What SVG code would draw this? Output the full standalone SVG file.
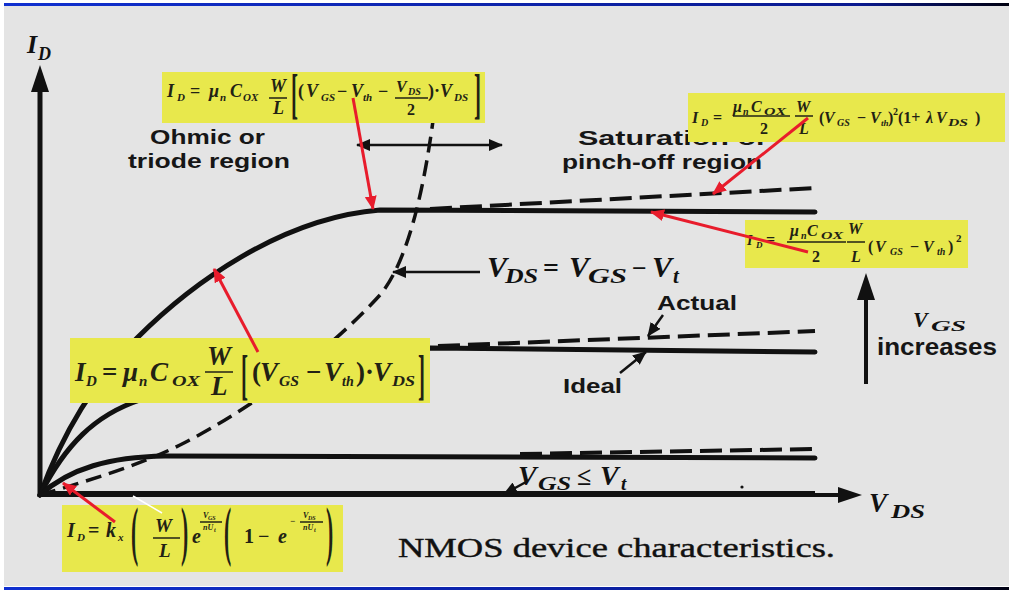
<svg xmlns="http://www.w3.org/2000/svg" width="1009" height="590" viewBox="0 0 1009 590">
<defs>
<linearGradient id="bar" x1="0" x2="1" y1="0" y2="0"><stop offset="0" stop-color="#1030d0"/><stop offset="0.85" stop-color="#0a1a90"/><stop offset="1" stop-color="#000010"/></linearGradient>
<marker id="ah" markerUnits="userSpaceOnUse" markerWidth="14" markerHeight="12" refX="13" refY="6" orient="auto-start-reverse"><path d="M0,0 L14,6 L0,12 z" fill="#111"/></marker>
<marker id="rh" markerUnits="userSpaceOnUse" markerWidth="14" markerHeight="12" refX="13" refY="6" orient="auto"><path d="M0,0 L14,6 L0,12 z" fill="#e81c2c"/></marker>
</defs>
<style>
.f{font-family:"Liberation Serif",serif;font-weight:bold;font-style:italic;fill:#222214}
.u{font-style:normal}
.lab{font-family:"Liberation Sans",Arial,sans-serif;font-weight:bold;fill:#161616}
.v{font-family:"Liberation Serif",serif;font-weight:bold;font-style:italic;fill:#111}
.box{fill:#e8e84c}
.crv{fill:none;stroke:#111;stroke-width:5;stroke-linecap:round;stroke-linejoin:round}
.dsh{fill:none;stroke:#111;stroke-width:4;stroke-dasharray:22 8}
.par{fill:none;stroke:#111;stroke-width:3.5;stroke-dasharray:16 8}
.ar{fill:none;stroke:#111;stroke-width:2.5}
.red{fill:none;stroke:#e81c2c;stroke-width:3}
.fl{stroke:#222214;stroke-width:1.5}
</style>
<rect x="0" y="0" width="1009" height="590" fill="#ffffff"/>
<rect x="4" y="6" width="1005" height="580" fill="#e4e4e4"/>
<rect x="4" y="3" width="1005" height="3" fill="url(#bar)"/>
<rect x="4" y="587" width="1005" height="3" fill="url(#bar)"/>

<g id="axes">
<line x1="40" y1="497" x2="40" y2="88" stroke="#111" stroke-width="5"/>
<polygon points="40,65 31,92 49,92" fill="#111"/>
<line x1="38" y1="494" x2="815" y2="494" stroke="#111" stroke-width="6"/>
<line x1="815" y1="495" x2="845" y2="495" stroke="#111" stroke-width="4"/>
<polygon points="862,495 838,487 838,503" fill="#111"/>
<text class="v" font-size="26"><tspan x="27" y="53">I</tspan><tspan x="38" y="60" font-size="18">D</tspan></text>
<text class="v" font-size="27"><tspan x="869" y="512">V</tspan><tspan x="891" y="518" font-size="19" textLength="34" lengthAdjust="spacingAndGlyphs">DS</tspan></text>
</g>

<g id="curves">
<path class="crv" d="M40,495 C60,440 90,385 137,338 C190,285 280,218 380,210 L815,212"/>
<path class="dsh" d="M430,209 L815,188"/>
<path class="crv" d="M40,495 C65,445 95,415 140,400 C200,378 280,352 430,348 L815,352"/>
<path class="dsh" d="M438,346 L815,331"/>
<path class="crv" d="M40,495 C70,468 110,457 165,456 L815,458"/>
<path class="dsh" d="M520,454 L815,449"/>
<path class="par" d="M40,495 C90,480 140,465 180,445 C250,410 330,350 380,295 C405,265 425,200 438,80"/>
<circle cx="742" cy="487" r="1.6" fill="#111"/>
</g>

<g id="labels">
<text class="lab" font-size="21" x="150" y="144" textLength="115" lengthAdjust="spacingAndGlyphs">Ohmic or</text>
<text class="lab" font-size="21" x="128" y="168" textLength="162" lengthAdjust="spacingAndGlyphs">triode region</text>
<text class="lab" font-size="21" x="578" y="145" textLength="190" lengthAdjust="spacingAndGlyphs">Saturation or</text>
<text class="lab" font-size="21" x="562" y="169" textLength="200" lengthAdjust="spacingAndGlyphs">pinch-off region</text>
<text class="lab" font-size="21" x="657" y="310" textLength="80" lengthAdjust="spacingAndGlyphs">Actual</text>
<text class="lab" font-size="21" x="563" y="393" textLength="59" lengthAdjust="spacingAndGlyphs">Ideal</text>
<text class="lab" font-size="23" x="877" y="355" textLength="120" lengthAdjust="spacingAndGlyphs">increases</text>
<text class="v" font-size="22"><tspan x="913" y="327">V</tspan><tspan x="931" y="331" font-size="15" textLength="35" lengthAdjust="spacingAndGlyphs">GS</tspan></text>
<text class="v" font-size="30"><tspan x="487" y="277">V</tspan><tspan x="505" y="283" font-size="21" textLength="33" lengthAdjust="spacingAndGlyphs">DS</tspan><tspan x="543" y="277" class="u" font-size="28">=</tspan><tspan x="569" y="277">V</tspan><tspan x="588" y="283" font-size="21" textLength="39" lengthAdjust="spacingAndGlyphs">GS</tspan><tspan x="632" y="277" class="u" font-size="26">−</tspan><tspan x="652" y="277">V</tspan><tspan x="673" y="283" font-size="21">t</tspan></text>
<text class="v" font-size="28"><tspan x="518" y="485">V</tspan><tspan x="538" y="490" font-size="19" textLength="33" lengthAdjust="spacingAndGlyphs">GS</tspan><tspan x="577" y="485" class="u" font-size="26">≤</tspan><tspan x="600" y="485">V</tspan><tspan x="621" y="490" font-size="19">t</tspan></text>
<text font-family="Liberation Serif,serif" font-size="27" fill="#111" stroke="#111" stroke-width="0.4" x="398" y="557" textLength="437" lengthAdjust="spacingAndGlyphs">NMOS device characteristics.</text>
</g>

<g id="connectors">
<line class="ar" x1="357" y1="145" x2="502" y2="145" marker-start="url(#ah)" marker-end="url(#ah)"/>
<line class="ar" x1="480" y1="272" x2="393" y2="272" marker-end="url(#ah)"/>
<line class="ar" x1="663" y1="315" x2="648" y2="336" marker-end="url(#ah)"/>
<line class="ar" x1="620" y1="373" x2="646" y2="352" marker-end="url(#ah)"/>
<line class="ar" x1="526" y1="482" x2="504" y2="494" marker-end="url(#ah)"/>
<line x1="866" y1="384" x2="866" y2="295" stroke="#111" stroke-width="4"/>
<polygon points="866,273 857,300 875,300" fill="#111"/>
</g>

<g id="eq-triode-full">
<rect class="box" x="162" y="72" width="323" height="51"/>
<text class="f" font-size="18"><tspan x="167" y="97">I</tspan><tspan x="177" y="101" font-size="11">D</tspan><tspan x="190" y="97" class="u">=</tspan><tspan x="209" y="97">μ</tspan><tspan x="220" y="101" font-size="11">n</tspan><tspan x="230" y="97">C</tspan><tspan x="243" y="101" font-size="11">OX</tspan><tspan x="270" y="92">W</tspan><tspan x="273" y="114">L</tspan><tspan x="298" y="97" class="u">(</tspan><tspan x="306" y="97">V</tspan><tspan x="321" y="101" font-size="11">GS</tspan><tspan x="337" y="97" class="u">−</tspan><tspan x="351" y="97">V</tspan><tspan x="363" y="101" font-size="11">th</tspan><tspan x="378" y="97" class="u">−</tspan><tspan x="396" y="92" font-size="16">V</tspan><tspan x="408" y="95" font-size="10">DS</tspan><tspan x="407" y="115" class="u" font-size="16">2</tspan><tspan x="428" y="97" class="u">)·</tspan><tspan x="440" y="97">V</tspan><tspan x="454" y="101" font-size="11">DS</tspan></text>
<line class="fl" x1="269" y1="98" x2="287" y2="98"/>
<line class="fl" x1="395" y1="98" x2="428" y2="98"/>
<text class="f u" font-size="30" transform="translate(291,112) scale(0.7,1.8)">[</text>
<text class="f u" font-size="30" transform="translate(474,112) scale(0.7,1.8)">]</text>
</g>

<g id="eq-saturation-clm">
<rect class="box" x="688" y="93" width="317" height="49"/>
<text class="f" font-size="16"><tspan x="692" y="123">I</tspan><tspan x="701" y="126" font-size="10">D</tspan><tspan x="713" y="123" class="u">=</tspan><tspan x="733" y="112">μ</tspan><tspan x="743" y="115" font-size="10">n</tspan><tspan x="751" y="112">C</tspan><tspan x="764" y="115" font-size="10" textLength="22" lengthAdjust="spacingAndGlyphs">OX</tspan><tspan x="760" y="134" class="u">2</tspan><tspan x="796" y="112">W</tspan><tspan x="799" y="134">L</tspan><tspan x="819" y="123" class="u">(</tspan><tspan x="824" y="123">V</tspan><tspan x="837" y="126" font-size="10">GS</tspan><tspan x="857" y="123" class="u">−</tspan><tspan x="870" y="123">V</tspan><tspan x="881" y="126" font-size="9">th</tspan><tspan x="888" y="123" class="u">)</tspan><tspan x="893" y="115" class="u" font-size="10">2</tspan><tspan x="898" y="123" class="u">(1+</tspan><tspan x="926" y="123">λ</tspan><tspan x="936" y="123">V</tspan><tspan x="948" y="126" font-size="10" textLength="20" lengthAdjust="spacingAndGlyphs">DS</tspan><tspan x="975" y="123" class="u">)</tspan></text>
<line class="fl" x1="733" y1="116" x2="790" y2="116"/>
<line class="fl" x1="795" y1="116" x2="813" y2="116"/>
</g>

<g id="eq-saturation">
<rect class="box" x="745" y="220" width="223" height="48"/>
<text class="f" font-size="16"><tspan x="747" y="245" font-size="14">I</tspan><tspan x="756" y="248" font-size="9">D</tspan><tspan x="766" y="245" class="u">=</tspan><tspan x="790" y="236">μ</tspan><tspan x="801" y="239" font-size="10">n</tspan><tspan x="807" y="236">C</tspan><tspan x="821" y="239" font-size="10" textLength="22" lengthAdjust="spacingAndGlyphs">OX</tspan><tspan x="812" y="262" class="u">2</tspan><tspan x="848" y="234">W</tspan><tspan x="851" y="262">L</tspan><tspan x="868" y="252" class="u">(</tspan><tspan x="875" y="252">V</tspan><tspan x="890" y="255" font-size="10">GS</tspan><tspan x="910" y="252" class="u">−</tspan><tspan x="923" y="252">V</tspan><tspan x="937" y="255" font-size="10">th</tspan><tspan x="948" y="252" class="u">)</tspan><tspan x="956" y="242" class="u" font-size="11">2</tspan></text>
<line class="fl" x1="787" y1="242" x2="846" y2="242"/>
<line class="fl" x1="847" y1="242" x2="865" y2="242"/>
</g>

<g id="eq-triode-linear">
<rect class="box" x="70" y="338" width="360" height="65"/>
<text class="f" font-size="27"><tspan x="75" y="381">I</tspan><tspan x="86" y="386" font-size="15">D</tspan><tspan x="102" y="381" class="u">=</tspan><tspan x="123" y="381">μ</tspan><tspan x="139" y="386" font-size="15">n</tspan><tspan x="150" y="381">C</tspan><tspan x="172" y="386" font-size="15" textLength="28" lengthAdjust="spacingAndGlyphs">OX</tspan><tspan x="207" y="365">W</tspan><tspan x="211" y="395">L</tspan><tspan x="252" y="381" class="u">(</tspan><tspan x="260" y="381">V</tspan><tspan x="279" y="386" font-size="15" textLength="20" lengthAdjust="spacingAndGlyphs">GS</tspan><tspan x="306" y="381" class="u">−</tspan><tspan x="324" y="381">V</tspan><tspan x="342" y="386" font-size="14">th</tspan><tspan x="356" y="381" class="u">)·</tspan><tspan x="373" y="381">V</tspan><tspan x="392" y="386" font-size="15" textLength="23" lengthAdjust="spacingAndGlyphs">DS</tspan></text>
<line class="fl" x1="205" y1="372" x2="233" y2="372"/>
<text class="f u" font-size="30" transform="translate(241,393) scale(0.7,1.8)">[</text>
<text class="f u" font-size="30" transform="translate(418,393) scale(0.7,1.8)">]</text>
</g>

<g id="eq-subthreshold">
<rect class="box" x="62" y="505" width="281" height="67"/>
<text class="f" font-size="20"><tspan x="67" y="537">I</tspan><tspan x="77" y="541" font-size="11">D</tspan><tspan x="88" y="537" class="u">=</tspan><tspan x="106" y="537">k</tspan><tspan x="118" y="541" font-size="11">x</tspan><tspan x="155" y="532" font-size="19">W</tspan><tspan x="159" y="557" font-size="19">L</tspan><tspan x="192" y="543">e</tspan><tspan x="203" y="518" font-size="8">V</tspan><tspan x="208" y="520" font-size="6">GS</tspan><tspan x="203" y="530" font-size="8">nU</tspan><tspan x="214" y="532" font-size="6">t</tspan><tspan x="244" y="543" class="u">1</tspan><tspan x="258" y="543" class="u">−</tspan><tspan x="278" y="543">e</tspan><tspan x="290" y="524" class="u" font-size="9">−</tspan><tspan x="303" y="518" font-size="8">V</tspan><tspan x="308" y="520" font-size="6">DS</tspan><tspan x="303" y="530" font-size="8">nU</tspan><tspan x="314" y="532" font-size="6">t</tspan></text>
<line class="fl" x1="153" y1="538" x2="180" y2="538"/>
<line class="fl" x1="200" y1="522" x2="222" y2="522" stroke-width="1"/>
<line class="fl" x1="300" y1="522" x2="323" y2="522" stroke-width="1"/>
<text class="f u" font-size="36" transform="translate(131,553) scale(0.6,1.8)">(</text>
<text class="f u" font-size="36" transform="translate(181,553) scale(0.6,1.8)">)</text>
<text class="f u" font-size="36" transform="translate(224,553) scale(0.6,1.8)">(</text>
<text class="f u" font-size="36" transform="translate(326,553) scale(0.6,1.8)">)</text>
</g>

<g id="pointers">
<line class="red" x1="353" y1="98" x2="373" y2="209" marker-end="url(#rh)"/>
<line class="red" x1="258" y1="352" x2="214" y2="269" marker-end="url(#rh)"/>
<line class="red" x1="808" y1="118" x2="713" y2="194" marker-end="url(#rh)"/>
<line class="red" x1="808" y1="252" x2="651" y2="212" marker-end="url(#rh)"/>
<line class="red" x1="115" y1="522" x2="63" y2="483" marker-end="url(#rh)"/>
<line x1="133" y1="496" x2="162" y2="513" stroke="#ffffff" stroke-width="1.5"/>
</g>
</svg>
